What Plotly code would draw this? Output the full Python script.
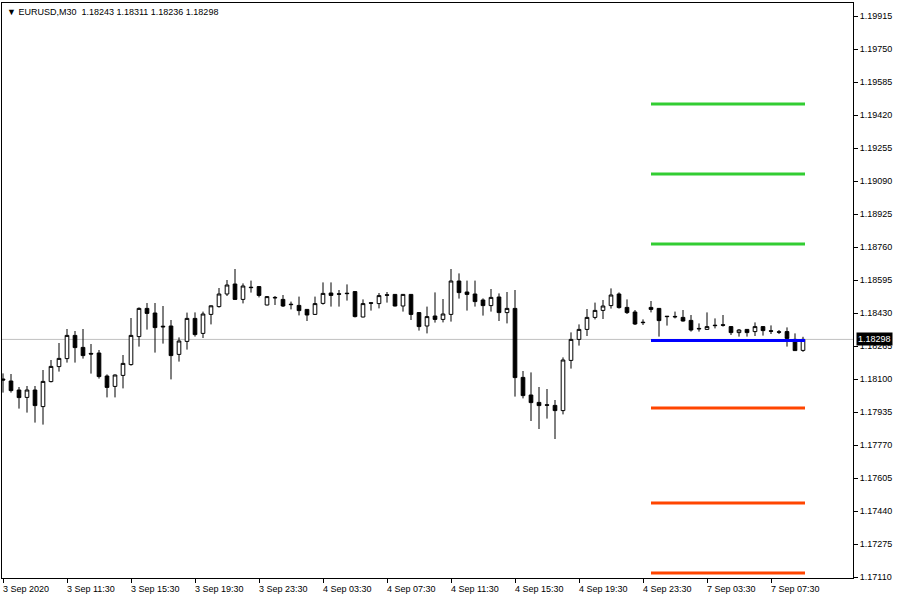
import plotly.graph_objects as go

# ---------------- data ----------------
symbol_text = "EURUSD,M30"

bar_index = list(range(101))

opens = [1.18100, 1.18090, 1.18045, 1.18008, 1.18045, 1.17962, 1.18087, 1.18162, 1.18202, 1.18318,
         1.18258, 1.18228, 1.18230, 1.18115, 1.18063, 1.18118, 1.18172, 1.18312, 1.18453, 1.18430,
         1.18364, 1.18365, 1.18223, 1.18288, 1.18403, 1.18328, 1.18423, 1.18462, 1.18525, 1.18575,
         1.18498, 1.18559, 1.18562, 1.18470, 1.18508, 1.18498, 1.18474, 1.18468, 1.18448, 1.18423,
         1.18478, 1.18530, 1.18526, 1.18529, 1.18537, 1.18410, 1.18481, 1.18477, 1.18521, 1.18523,
         1.18465, 1.18523, 1.18432, 1.18365, 1.18415, 1.18398, 1.18423, 1.18590, 1.18535, 1.18525,
         1.18495, 1.18467, 1.18510, 1.18432, 1.18453, 1.18108, 1.18020, 1.17983, 1.17971, 1.17968,
         1.17942, 1.18193, 1.18298, 1.18348, 1.18408, 1.18443, 1.18467, 1.18525, 1.18458, 1.18435,
         1.18384, 1.18458, 1.18453, 1.18414, 1.18413, 1.18408, 1.18393, 1.18353, 1.18348, 1.18369,
         1.18371, 1.18362, 1.18332, 1.18348, 1.18337, 1.18362, 1.18341, 1.18336, 1.18337, 1.18298,
         1.18243]
highs = [1.18128, 1.18125, 1.18060, 1.18065, 1.18065, 1.18145, 1.18195, 1.18280, 1.18350, 1.18340,
         1.18350, 1.18275, 1.18245, 1.18123, 1.18123, 1.18220, 1.18405, 1.18458, 1.18480, 1.18480,
         1.18465, 1.18395, 1.18308, 1.18432, 1.18433, 1.18437, 1.18468, 1.18555, 1.18595, 1.18650,
         1.18578, 1.18592, 1.18565, 1.18515, 1.18515, 1.18520, 1.18487, 1.18512, 1.18450, 1.18512,
         1.18583, 1.18583, 1.18545, 1.18573, 1.18540, 1.18498, 1.18483, 1.18530, 1.18535, 1.18525,
         1.18525, 1.18525, 1.18435, 1.18462, 1.18533, 1.18500, 1.18650, 1.18628, 1.18592, 1.18592,
         1.18503, 1.18550, 1.18528, 1.18535, 1.18545, 1.18140, 1.18133, 1.18060, 1.18050, 1.17995,
         1.18208, 1.18333, 1.18373, 1.18450, 1.18482, 1.18495, 1.18553, 1.18533, 1.18498, 1.18445,
         1.18398, 1.18490, 1.18455, 1.18415, 1.18437, 1.18445, 1.18420, 1.18378, 1.18433, 1.18403,
         1.18420, 1.18363, 1.18350, 1.18350, 1.18383, 1.18363, 1.18368, 1.18345, 1.18358, 1.18328,
         1.18311]
lows = [1.18032, 1.18032, 1.17952, 1.17932, 1.17882, 1.17872, 1.18083, 1.18137, 1.18182, 1.18182,
        1.18202, 1.18127, 1.18102, 1.18008, 1.18008, 1.18053, 1.18167, 1.18262, 1.18347, 1.18232,
        1.18277, 1.18098, 1.18187, 1.18247, 1.18312, 1.18305, 1.18373, 1.18457, 1.18515, 1.18498,
        1.18478, 1.18532, 1.18508, 1.18468, 1.18470, 1.18460, 1.18448, 1.18418, 1.18390, 1.18420,
        1.18472, 1.18462, 1.18462, 1.18492, 1.18408, 1.18408, 1.18442, 1.18453, 1.18482, 1.18463,
        1.18437, 1.18395, 1.18342, 1.18328, 1.18382, 1.18383, 1.18387, 1.18502, 1.18442, 1.18462,
        1.18417, 1.18437, 1.18390, 1.18378, 1.18012, 1.18003, 1.17890, 1.17850, 1.17902, 1.17800,
        1.17923, 1.18152, 1.18267, 1.18315, 1.18398, 1.18400, 1.18452, 1.18452, 1.18425, 1.18370,
        1.18370, 1.18433, 1.18312, 1.18367, 1.18403, 1.18387, 1.18337, 1.18337, 1.18347, 1.18353,
        1.18362, 1.18320, 1.18312, 1.18312, 1.18315, 1.18317, 1.18325, 1.18325, 1.18262, 1.18242,
        1.18236]
closes = [1.18095, 1.18042, 1.18007, 1.18045, 1.17967, 1.18088, 1.18163, 1.18203, 1.18318, 1.18257,
          1.18217, 1.18225, 1.18112, 1.18058, 1.18120, 1.18178, 1.18318, 1.18453, 1.18428, 1.18357,
          1.18361, 1.18217, 1.18290, 1.18403, 1.18322, 1.18425, 1.18466, 1.18525, 1.18570, 1.18498,
          1.18565, 1.18557, 1.18518, 1.18512, 1.18506, 1.18465, 1.18472, 1.18442, 1.18420, 1.18477,
          1.18528, 1.18518, 1.18524, 1.18527, 1.18412, 1.18477, 1.18479, 1.18517, 1.18519, 1.18465,
          1.18523, 1.18423, 1.18362, 1.18412, 1.18398, 1.18425, 1.18590, 1.18532, 1.18523, 1.18487,
          1.18467, 1.18508, 1.18432, 1.18453, 1.18107, 1.18017, 1.17982, 1.17967, 1.17969, 1.17942,
          1.18195, 1.18298, 1.18348, 1.18408, 1.18443, 1.18465, 1.18520, 1.18457, 1.18432, 1.18375,
          1.18382, 1.18448, 1.18392, 1.18412, 1.18411, 1.18390, 1.18345, 1.18351, 1.18362, 1.18367,
          1.18369, 1.18332, 1.18345, 1.18332, 1.18362, 1.18342, 1.18339, 1.18334, 1.18303, 1.18242,
          1.18298]

x_tick_bars = [0, 8, 16, 24, 32, 40, 48, 56, 64, 72, 80, 88, 96]
x_tick_labels = ["3 Sep 2020", "3 Sep 11:30", "3 Sep 15:30", "3 Sep 19:30", "3 Sep 23:30",
                 "4 Sep 03:30", "4 Sep 07:30", "4 Sep 11:30", "4 Sep 15:30", "4 Sep 19:30",
                 "4 Sep 23:30", "7 Sep 03:30", "7 Sep 07:30"]

y_tick_values = [1.17110, 1.17275, 1.17440, 1.17605, 1.17770, 1.17935, 1.18100, 1.18265, 1.18430,
                 1.18595, 1.18760, 1.18925, 1.19090, 1.19255, 1.19420, 1.19585, 1.19750, 1.19915]

# daily pivot levels for 7 Sep (R3, R2, R1, P, S1, S2, S3)
level_values = [1.19475, 1.19125, 1.18775, 1.18293, 1.17955, 1.17480, 1.17130]
level_colors = ["#32cd32", "#32cd32", "#32cd32", "#0000ff", "#ff4500", "#ff4500", "#ff4500"]
level_first_bar = 81
level_last_bar = 100

# ---------------- figure ----------------
FONT = "Liberation Sans, Arial, sans-serif"

fig = go.Figure()

fig.add_trace(go.Candlestick(
    x=bar_index, open=opens, high=highs, low=lows, close=closes,
    increasing=dict(line=dict(color="black", width=1), fillcolor="white"),
    decreasing=dict(line=dict(color="black", width=1), fillcolor="black"),
    whiskerwidth=0, showlegend=False, hoverinfo="skip",
))

for v, c in zip(level_values, level_colors):
    fig.add_trace(go.Scatter(
        x=[level_first_bar, level_last_bar + 0.25], y=[v, v], mode="lines",
        line=dict(color=c, width=3), showlegend=False, hoverinfo="skip",
    ))

# current price line
fig.add_shape(type="line", xref="paper", x0=0, x1=1, yref="y",
              y0=closes[-1], y1=closes[-1], line=dict(color="#c0c0c0", width=1), layer="below")

annotations = []
for b, lab in zip(x_tick_bars, x_tick_labels):
    annotations.append(dict(x=b, xref="x", y=0, yref="paper", text=lab, showarrow=False,
                            xanchor="left", yanchor="top", yshift=-4, xshift=-2,
                            font=dict(family=FONT, size=9, color="black")))

annotations.append(dict(
    x=0, xref="paper", y=1, yref="paper", xanchor="left", yanchor="top",
    xshift=3, yshift=-2, showarrow=False,
    text="▼ " + symbol_text + "  " + " ".join(f"{v:.5f}" for v in
                                              [opens[-1], highs[-1], lows[-1], closes[-1]]),
    font=dict(family=FONT, size=9, color="black")))

annotations.append(dict(
    x=1, xref="paper", y=closes[-1], yref="y", xanchor="left", yanchor="middle",
    xshift=3, showarrow=False, text=f"{closes[-1]:.5f}", bgcolor="black",
    borderpad=1, font=dict(family=FONT, size=9, color="white")))

fig.update_layout(
    width=900, height=600,
    margin=dict(l=2, r=47, t=3, b=22),
    paper_bgcolor="white", plot_bgcolor="white",
    showlegend=False,
    annotations=annotations,
    boxgap=0.35,
    xaxis=dict(range=[-0.125, 106.25], showgrid=False, zeroline=False,
               showline=True, mirror=True, linecolor="black", linewidth=1,
               ticks="outside", ticklen=4, tickcolor="black", tickwidth=1,
               tickvals=x_tick_bars, showticklabels=False,
               rangeslider=dict(visible=False), fixedrange=True),
    yaxis=dict(side="right", range=[1.17105, 1.19980], showgrid=False, zeroline=False,
               showline=True, mirror=True, linecolor="black", linewidth=1,
               ticks="outside", ticklen=4, tickcolor="black", tickwidth=1,
               tickvals=y_tick_values, ticktext=[f"{v:.5f}" for v in y_tick_values],
               tickfont=dict(family=FONT, size=9, color="black"), fixedrange=True),
)

fig.write_html("out.html", config={"displayModeBar": False},
               post_script="document.body.style.margin='0';document.body.style.overflow='hidden';")
